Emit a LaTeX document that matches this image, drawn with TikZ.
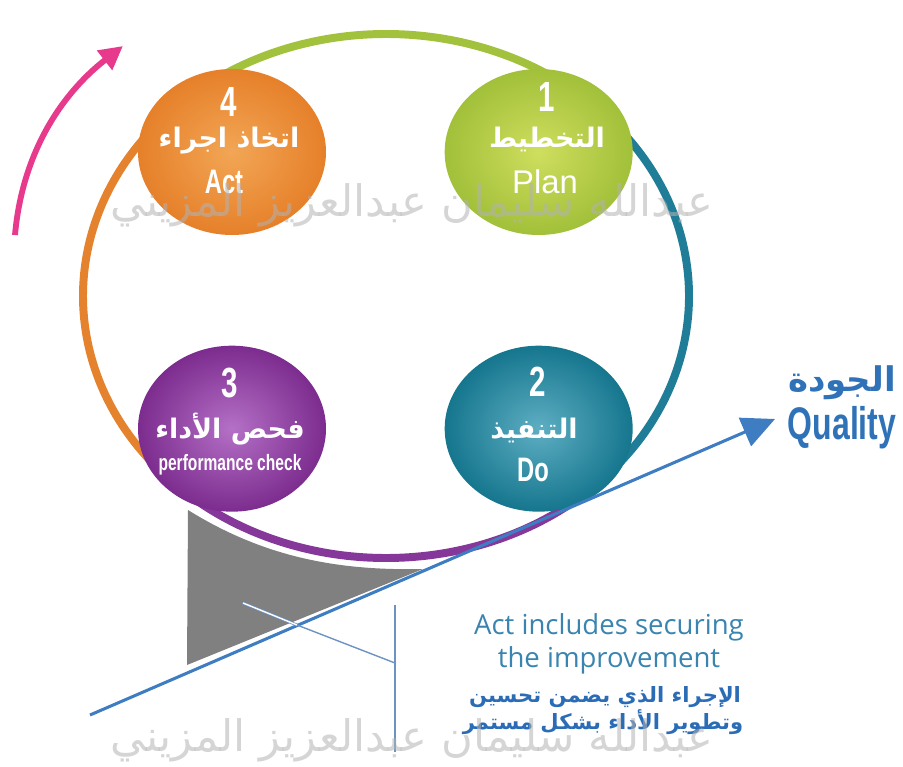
\documentclass[tikz,border=0pt]{standalone}
\usepackage{fontspec}
\setmainfont{Liberation Sans}
\newfontfamily\arfont[Script=Arabic]{DejaVu Sans}
\newfontfamily\condfont[FakeStretch=0.7]{Liberation Sans}
\newfontfamily\opfont{Open Sans}
\TeXXeTstate=1
\usepackage{xcolor}
\usetikzlibrary{arrows.meta,shapes.geometric,positioning}
\definecolor{actorange}{HTML}{E6802A}
\definecolor{actlight}{HTML}{F2A655}
\definecolor{plangreen}{HTML}{A2C03A}
\definecolor{planlight}{HTML}{CFDE5E}
\definecolor{checkpurple}{HTML}{7C2C8E}
\definecolor{checklight}{HTML}{B470C6}
\definecolor{doteal}{HTML}{15768E}
\definecolor{dolight}{HTML}{5EAEC2}
\definecolor{ringgreen}{HTML}{A2C13C}
\definecolor{ringteal}{HTML}{1F7D97}
\definecolor{ringpurple}{HTML}{86389A}
\definecolor{ringorange}{HTML}{E5822E}
\definecolor{arrowpink}{HTML}{E83A8C}
\definecolor{qblue}{HTML}{2F72B8}
\definecolor{lineblue}{HTML}{3E7DC1}
\definecolor{noteblue}{HTML}{3A84B0}
\definecolor{notearblue}{HTML}{2B6CB6}
\definecolor{calloutblue}{HTML}{6C93C4}
\newcommand{\fsz}[1]{\fontsize{#1}{#1}\selectfont}

\begin{document}
\begin{tikzpicture}[x=0.03cm, y=0.03cm, semithick, node distance=9.2cm]
	\tikzstyle{stage}=[ellipse, minimum width=5.64cm, minimum height=4.98cm, inner sep=0pt, shading=radial]
	\tikzstyle{ring}=[line width=6.8pt]
	\tikzstyle{num}=[text=white, font=\condfont\bfseries\fsz{36pt}]
	\tikzstyle{artxt}=[text=white, font=\arfont\bfseries\fsz{23pt}]
	\tikzstyle{entxt}=[text=white, font=\condfont\bfseries\fsz{29pt}]
	\tikzstyle{wmark}=[text=black!30, text opacity=0.55, font=\arfont\fsz{37pt}]
	\useasboundingbox (0,0) rectangle (903,-767);

	% ring round the four stages
	\coordinate (ctr) at (386,-296);
	\draw[ring, draw=ringgreen] (ctr) ++(135:303 and 262) arc[start angle=135, end angle=45, x radius=303, y radius=262];
	\draw[ring, draw=ringteal] (ctr) ++(45:303 and 262) arc[start angle=45, end angle=-45, x radius=303, y radius=262];
	\draw[ring, draw=ringpurple] (ctr) ++(-45:303 and 262) arc[start angle=-45, end angle=-135, x radius=303, y radius=262];
	\draw[ring, draw=ringorange] (ctr) ++(-135:303 and 262) arc[start angle=-135, end angle=-225, x radius=303, y radius=262];

	% stages
	\node[stage, inner color=actlight, outer color=actorange] (act) at (232,-152) {};
	\node[stage, inner color=planlight, outer color=plangreen] (plan) [right of=act] {};
	\node[stage, inner color=checklight, outer color=checkpurple] (check) [below of=act, node distance=8.3cm] {};
	\node[stage, inner color=dolight, outer color=doteal] (do) [right of=check] {};

	\node[num] (actnum) at (229,-102) {4};
	\node[artxt] (actar) at (229,-141) {\beginR اتخاذ اجراء\endR};
	\node[entxt] (acten) at (224,-182) {Act};

	\node[num] (plannum) at (547,-97) {1};
	\node[artxt] (planar) at (547,-140) {\beginR التخطيط\endR};
	\node[text=white, font=\fsz{28pt}] (planen) at (545,-182) {Plan};

	\node[num] (checknum) at (230,-383) {3};
	\node[artxt] (checkar) at (230,-429) {\beginR فحص الأداء\endR};
	\node[entxt, font=\condfont\bfseries\fsz{19pt}] (checken) at (230,-465) {performance check};

	\node[num] (donum) at (538,-382) {2};
	\node[artxt] (doar) at (534,-430) {\beginR التنفيذ\endR};
	\node[entxt] (doen) at (533,-470) {Do};

	% wedge under the cycle
	\coordinate (wa) at (188,-510);
	\coordinate (wb) at (423,-569);
	\coordinate (wc) at (187,-665);
	\fill[black!50] (wa) .. controls (262,-556) and (335,-571) .. (wb) -- (wc) -- cycle;

	% quality line
	\coordinate (qbase) at (90,-715);
	\coordinate (qtip) at (775,-419);
	\draw[lineblue, line width=2.6pt, -{Triangle[length=28pt, width=26pt]}] (qbase) -- (qtip);
	\node[text=qblue, font=\arfont\bfseries\fsz{29pt}] (qualar) at (842,-383) {\beginR الجودة\endR};
	\node[text=qblue, font=\condfont\bfseries\fsz{39pt}] (qualen) at (842,-428) {Quality};

	% callout
	\coordinate (ca) at (243,-603);
	\coordinate (cb) at (297,-625);
	\coordinate (cc) at (395,-663);
	\coordinate (ctop) at (395,-605);
	\coordinate (cbot) at (395,-752);
	\draw[calloutblue, line width=0.6pt, double=white, double distance=1.2pt] (ca) -- (cb);
	\draw[calloutblue, line width=1.2pt] (cb) -- (cc);
	\draw[calloutblue, line width=1.4pt] (ctop) -- (cbot);

	\node[text=noteblue, font=\opfont\fsz{23.5pt}] (note1) at (609,-627) {Act includes securing};
	\node[text=noteblue, font=\opfont\fsz{23.5pt}] (note2) at (609,-660) {the improvement};
	\node[text=notearblue, font=\arfont\bfseries\fsz{18pt}] (note3) at (605,-697) {\beginR الإجراء الذي يضمن تحسين\endR};
	\node[text=notearblue, font=\arfont\bfseries\fsz{18pt}] (note4) at (603,-722) {\beginR وتطوير الأداء بشكل مستمر\endR};

	% pink arrow
	\coordinate (pstart) at (15,-235);
	\coordinate (ptip) at (123,-46);
	\draw[arrowpink, line width=5pt, -{Triangle[length=20pt, width=20pt]}] (pstart) .. controls (22,-155) and (60,-95) .. (ptip);

	% watermarks
	\node[wmark] (wm1) at (412,-205) {\beginR عبدالله سليمان عبدالعزيز المزيني\endR};
	\node[wmark] (wm2) at (412,-740) {\beginR عبدالله سليمان عبدالعزيز المزيني\endR};
\end{tikzpicture}
\end{document}
